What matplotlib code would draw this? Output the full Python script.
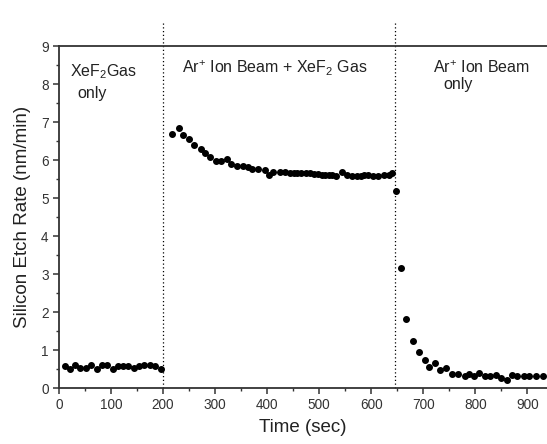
import matplotlib
matplotlib.use("Agg")
import matplotlib.pyplot as plt
from matplotlib.ticker import MultipleLocator

plt.rcParams['font.family'] = ['Liberation Sans', 'DejaVu Sans']
plt.rcParams['mathtext.fontset'] = 'custom'
plt.rcParams['mathtext.rm'] = 'Liberation Sans'
plt.rcParams['mathtext.it'] = 'Liberation Sans:italic'
plt.rcParams['mathtext.bf'] = 'Liberation Sans:bold'

# XeF2 gas only
t_gas = [11, 21, 31, 41, 51, 62, 72, 82, 92, 103, 113, 123, 133, 144, 154, 164, 174, 185, 196]
r_gas = [0.58, 0.50, 0.62, 0.52, 0.52, 0.60, 0.51, 0.62, 0.62, 0.50, 0.57, 0.57, 0.57,
         0.54, 0.57, 0.61, 0.61, 0.58, 0.50]

# Ar+ ion beam + XeF2 gas
t_both = [217, 231, 238, 250, 260, 272, 281, 291, 301, 312, 323, 331, 342, 354, 363, 371,
          383, 395, 404, 412, 424, 435, 443, 451, 458, 466, 474, 483, 490, 497, 505, 512,
          518, 524, 533, 544, 553, 564, 572, 581, 587, 593, 604, 614, 625, 634, 640]
r_both = [6.70, 6.85, 6.67, 6.56, 6.39, 6.30, 6.20, 6.09, 5.98, 5.98, 6.04, 5.89, 5.85, 5.85,
          5.81, 5.77, 5.77, 5.74, 5.62, 5.70, 5.70, 5.68, 5.67, 5.65, 5.65, 5.65, 5.65, 5.65,
          5.64, 5.63, 5.61, 5.61, 5.61, 5.61, 5.59, 5.69, 5.62, 5.59, 5.59, 5.59, 5.60, 5.62,
          5.59, 5.59, 5.62, 5.61, 5.66]

# Ar+ ion beam only
t_ion = [647, 658, 667, 681, 691, 703, 711, 722, 733, 744, 756, 767, 781, 789, 797, 808,
         819, 829, 840, 850, 861, 870, 881, 893, 904, 917, 930]
r_ion = [5.19, 3.15, 1.83, 1.24, 0.95, 0.74, 0.56, 0.67, 0.48, 0.53, 0.38, 0.38, 0.33, 0.38,
         0.33, 0.39, 0.33, 0.31, 0.34, 0.26, 0.22, 0.34, 0.31, 0.31, 0.31, 0.31, 0.31]

switch_times = [200, 645]

fig = plt.figure(figsize=(5.47, 4.44), dpi=100)
ax = fig.add_axes([0.108, 0.126, 0.892, 0.770])

for t, r in [(t_gas, r_gas), (t_both, r_both), (t_ion, r_ion)]:
    ax.plot(t, r, 'o', color='black', ms=4.0, mec='black', zorder=3)

for s in switch_times:
    ax.plot([s, s], [0, 9.6], color='black', ls=(0, (1, 2)), lw=0.9, clip_on=False)

ax.set_xlim(0, 938)
ax.set_ylim(0, 9)
ax.xaxis.set_major_locator(MultipleLocator(100))
ax.xaxis.set_minor_locator(MultipleLocator(50))
ax.yaxis.set_major_locator(MultipleLocator(1))
ax.yaxis.set_minor_locator(MultipleLocator(0.5))
ax.tick_params(which='major', direction='out', length=4.5, width=1.1, labelsize=9.8,
               colors='#333333', pad=3)
ax.tick_params(which='minor', direction='out', length=2.5, width=1.0, colors='#333333')

ax.spines['right'].set_visible(False)
for side in ['left', 'bottom', 'top']:
    ax.spines[side].set_linewidth(1.3)
    ax.spines[side].set_color('#333333')

ax.set_xlabel('Time (sec)', fontsize=13.5, color='#222222', labelpad=5)
ax.set_ylabel('Silicon Etch Rate (nm/min)', fontsize=13.5, color='#222222', labelpad=7)

tk = dict(fontsize=11.5, color='#222222', va='baseline')
ax.text(21, 8.21, r'XeF$_{\mathregular{2}}$Gas', **tk)
ax.text(35, 7.63, 'only', **tk)
ax.text(237, 8.29, r'Ar$^{\mathregular{+}}$ Ion Beam + XeF$_{\mathregular{2}}$ Gas', **tk)
ax.text(719, 8.29, r'Ar$^{\mathregular{+}}$ Ion Beam', **tk)
ax.text(738, 7.87, 'only', **tk)

fig.savefig('out.png', dpi=100)
